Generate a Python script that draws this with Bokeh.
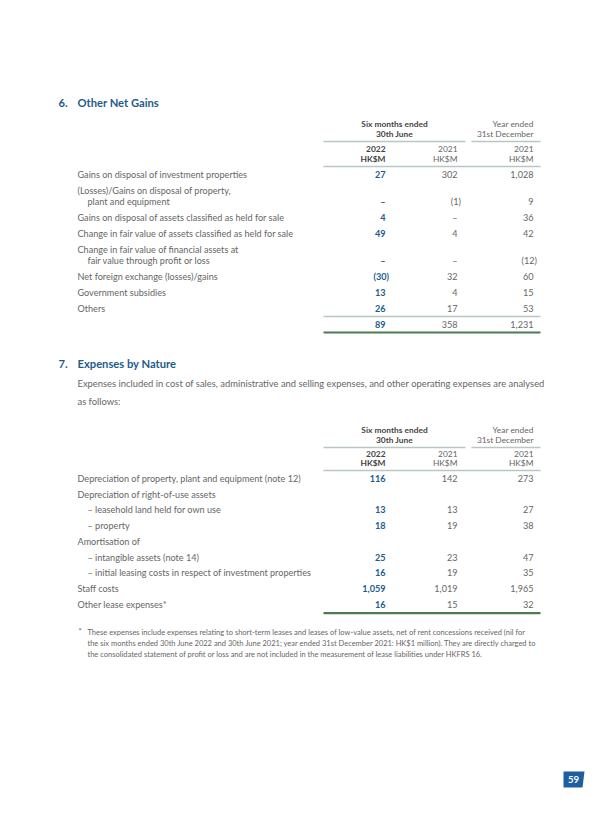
from bokeh.plotting import figure
from bokeh.models import Range1d
from bokeh.core.properties import value
from bokeh.embed import file_html
from bokeh.resources import INLINE

# ---------------- data ----------------
page_number = "59"

sec6_num, sec6_title = "6.", "Other Net Gains"
sec7_num, sec7_title = "7.", "Expenses by Nature"
sec7_intro = ["Expenses included in cost of sales, administrative and selling expenses, and other operating expenses are analysed",
              "as follows:"]

head_group = ["Six months ended", "30th June"]
head_year = ["Year ended", "31st December"]
col_years = ["2022", "2021", "2021"]
col_units = ["HK$M", "HK$M", "HK$M"]

labels6 = [
    ["Gains on disposal of investment properties"],
    ["(Losses)/Gains on disposal of property,", "plant and equipment"],
    ["Gains on disposal of assets classified as held for sale"],
    ["Change in fair value of assets classified as held for sale"],
    ["Change in fair value of financial assets at", "fair value through profit or loss"],
    ["Net foreign exchange (losses)/gains"],
    ["Government subsidies"],
    ["Others"],
]
gains_2022 = [27, None, 4, 49, None, -30, 13, 26]
gains_2021_half = [302, -1, None, 4, None, 32, 4, 17]
gains_2021_year = [1028, 9, 36, 42, -12, 60, 15, 53]

labels7 = [
    "Depreciation of property, plant and equipment (note 12)",
    "Depreciation of right-of-use assets",
    "– leasehold land held for own use",
    "– property",
    "Amortisation of",
    "– intangible assets (note 14)",
    "– initial leasing costs in respect of investment properties",
    "Staff costs",
    "Other lease expenses*",
]
exp_2022 = [116, "", 13, 18, "", 25, 16, 1059, 16]
exp_2021_half = [142, "", 13, 19, "", 23, 19, 1019, 15]
exp_2021_year = [273, "", 27, 38, "", 47, 35, 1965, 32]

footnote = [
    "These expenses include expenses relating to short-term leases and leases of low-value assets, net of rent concessions received (nil for",
    "the six months ended 30th June 2022 and 30th June 2021; year ended 31st December 2021: HK$1 million). They are directly charged to",
    "the consolidated statement of profit or loss and are not included in the measurement of lease liabilities under HKFRS 16.",
]

# ---------------- style ----------------
FONT = "Lato"
BLUE = "#1d5b8c"
GREY = "#666666"
DARK = "#444444"
RULE = "#b9c6c1"
GREEN = "#4a7b52"
BODY = "9.1px"
HEAD = "8.4px"

X_NUM, X_TEXT, X_INDENT = 58, 77, 87
COL_R = [385, 457, 533]
GROUP_C = 394
LINE_L, LINE_M1, LINE_M2, LINE_R = 323, 465, 471, 540

W, H = 592, 806
p = figure(width=W, height=H, output_backend="svg", toolbar_location=None,
           x_range=Range1d(0, W), y_range=Range1d(H, 0),
           x_axis_type=None, y_axis_type=None, min_border=0)
p.grid.visible = False
p.outline_line_color = None
p.background_fill_color = "white"
p.border_fill_color = "white"


def txt(x, y, s, color=GREY, size=BODY, bold=False, align="left"):
    p.text(x=[x], y=[y], text=[s], text_font=value(FONT), text_font_size=size,
           text_color=color, text_align=align, text_baseline="middle",
           text_font_style="bold" if bold else "normal")


def fmt(v):
    if v is None:
        return "–"
    if v == "":
        return ""
    if v < 0:
        return f"({-v:,})"
    return f"{v:,}"


def num(ci, y, v, bold=False):
    s = fmt(v)
    if not s:
        return
    x = COL_R[ci] + (3.5 if s.startswith("(") else 0)
    txt(x, y, s, color=BLUE if bold else GREY, bold=bold, align="right")


def hline(x0, x1, y, color=RULE, width=1.3):
    p.line(x=[x0, x1], y=[y, y], line_color=color, line_width=width)


def header(ys):
    y_g1, y_g2, y_l1, y_yr, y_un, y_l2 = ys
    txt(GROUP_C, y_g1, head_group[0], color=DARK, size=HEAD, bold=True, align="center")
    txt(GROUP_C, y_g2, head_group[1], color=DARK, size=HEAD, bold=True, align="center")
    txt(COL_R[2], y_g1, head_year[0], size=HEAD, align="right")
    txt(COL_R[2], y_g2, head_year[1], size=HEAD, align="right")
    hline(LINE_L, LINE_M1, y_l1)
    hline(LINE_M2, LINE_R, y_l1)
    for ci in range(3):
        b = ci == 0
        txt(COL_R[ci], y_yr, col_years[ci], color=DARK if b else GREY, size=HEAD, bold=b, align="right")
        txt(COL_R[ci], y_un, col_units[ci], color=DARK if b else GREY, size=HEAD, bold=b, align="right")
    hline(LINE_L, LINE_R, y_l2)


def title(y, n, t):
    txt(X_NUM, y, n, color=BLUE, size="11.2px", bold=True)
    txt(X_TEXT, y, t, color=BLUE, size="11.2px", bold=True)


# ---------------- section 6 ----------------
title(102, sec6_num, sec6_title)
header([123, 133, 141, 148, 158, 166])
y = 174
STEP, WRAP = 16, 11
for i, lab in enumerate(labels6):
    if len(lab) == 2:
        y += WRAP
        txt(X_TEXT, y - WRAP, lab[0])
        txt(X_INDENT, y, lab[1])
    else:
        txt(X_TEXT, y, lab[0])
    num(0, y, gains_2022[i], bold=True)
    num(1, y, gains_2021_half[i])
    num(2, y, gains_2021_year[i])
    y += STEP
y_last = y - STEP
hline(LINE_L, LINE_R, y_last + 8)
totals = [sum(v or 0 for v in col) for col in (gains_2022, gains_2021_half, gains_2021_year)]
for ci, t in enumerate(totals):
    num(ci, y_last + 16, t, bold=(ci == 0))
hline(LINE_L, LINE_R, y_last + 24, color=GREEN, width=2.2)

# ---------------- section 7 ----------------
title(363, sec7_num, sec7_title)
txt(X_TEXT, 383, sec7_intro[0], size="9.4px")
txt(X_TEXT, 401, sec7_intro[1], size="9.4px")
header([429, 439, 447, 453, 462, 470])
y0, STEP7 = 478, 15.7
for i, lab in enumerate(labels7):
    y = y0 + i * STEP7
    txt(X_INDENT if lab.startswith("–") else X_TEXT, y, lab)
    num(0, y, exp_2022[i], bold=True)
    num(1, y, exp_2021_half[i])
    num(2, y, exp_2021_year[i])
hline(LINE_L, LINE_R, y0 + (len(labels7) - 1) * STEP7 + 9, color=GREEN, width=2.2)

# ---------------- footnote ----------------
txt(X_TEXT + 1, 631, "*", size="7.5px")
for k, line in enumerate(footnote):
    txt(X_INDENT, 632 + k * 11, line, size="7.5px")

# ---------------- page number ----------------
p.patch(x=[563, 584, 582, 563], y=[771, 771, 787, 787], fill_color="#1d5fa0", line_color=None)
txt(573, 779, page_number, color="white", size="9.5px", bold=True, align="center")

open("out.html", "w").write(file_html(p, INLINE))
